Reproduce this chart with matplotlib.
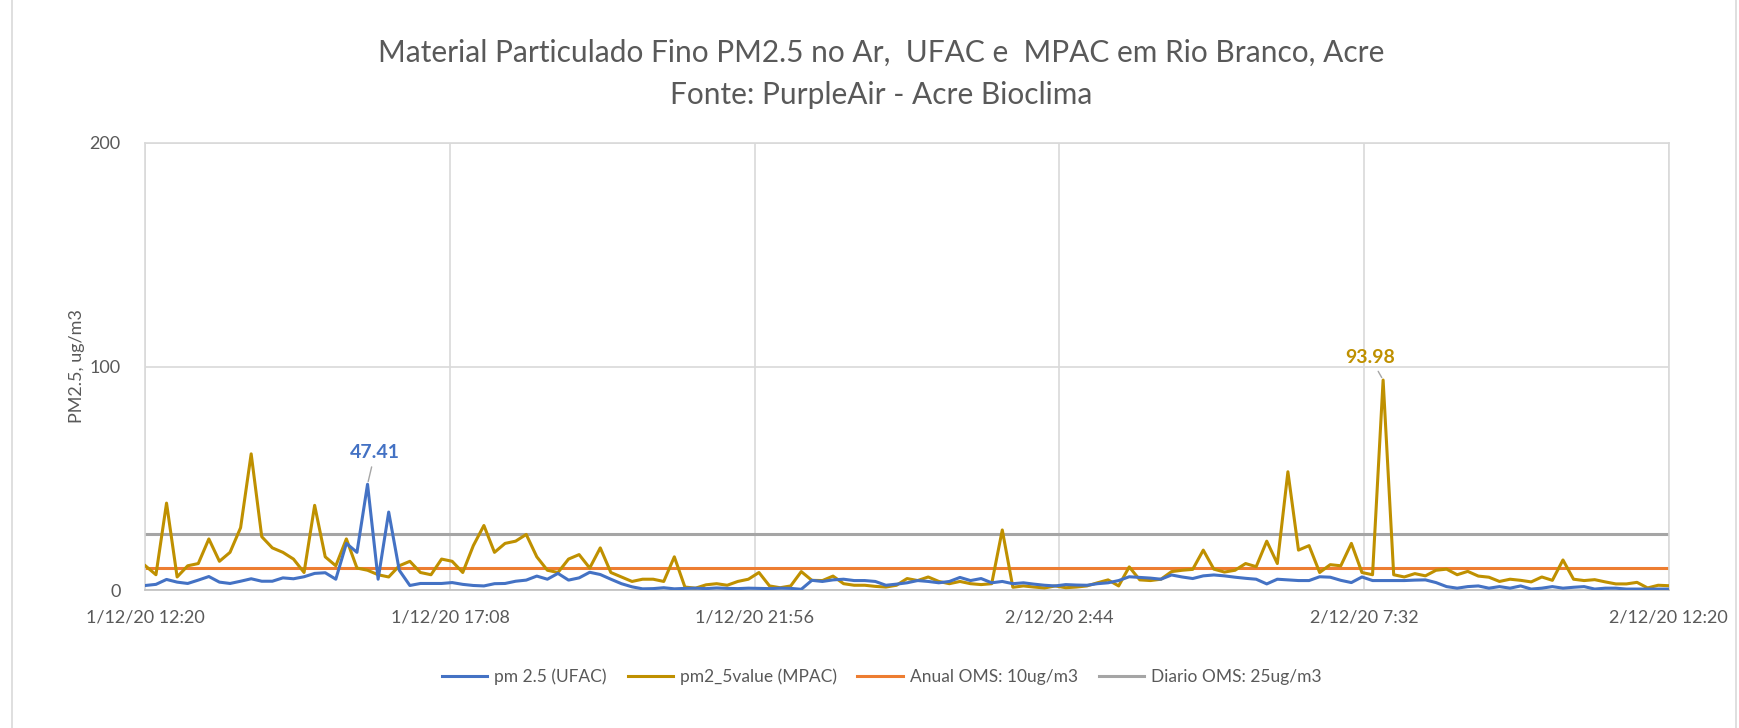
import numpy as np
import pandas as pd
import matplotlib
matplotlib.use("Agg")
import matplotlib.pyplot as plt
import matplotlib.dates as mdates
from matplotlib.ticker import FuncFormatter

# leituras a cada 10 min, 1/12/20 12:20 -> 2/12/20 12:20
start = "2020-12-01 12:20"
step_min = 10

ufac = [2.2, 2.7, 4.9, 3.7, 3.1, 4.6, 6.2, 3.7, 3.1, 4.1,
        5.2, 4.1, 4.1, 5.6, 5.2, 6.1, 7.6, 7.9, 5.0, 21.0,
        17.0, 47.41, 5.0, 35.0, 9.0, 2.2, 3.1, 3.1, 3.1, 3.5,
        2.7, 2.2, 2.0, 3.0, 3.1, 4.1, 4.6, 6.4, 5.0, 7.6,
        4.6, 5.6, 8.1, 7.1, 5.0, 3.0, 1.6, 0.7, 0.8, 1.2,
        0.7, 0.9, 1.0, 0.8, 1.1, 0.9, 0.8, 1.0, 0.9, 0.8,
        1.0, 0.9, 0.5, 4.5, 4.0, 4.7, 5.0, 4.4, 4.4, 4.0,
        2.3, 2.8, 3.4, 4.4, 4.0, 3.4, 4.0, 5.8, 4.4, 5.3,
        3.4, 4.0, 3.0, 3.4, 2.8, 2.3, 2.0, 2.6, 2.4, 2.3,
        3.0, 3.4, 4.4, 6.1, 5.8, 5.5, 5.0, 6.9, 6.0, 5.3,
        6.5, 6.9, 6.5, 5.9, 5.4, 5.0, 2.9, 5.0, 4.7, 4.4,
        4.4, 6.1, 5.9, 4.5, 3.5, 6.0, 4.4, 4.4, 4.4, 4.4,
        4.6, 4.7, 3.5, 1.7, 1.0, 1.7, 2.0, 1.0, 1.7, 1.0,
        2.0, 0.6, 1.0, 1.7, 1.0, 1.4, 1.7, 0.6, 1.0, 1.0,
        0.6, 0.6, 0.6, 0.6, 0.6]

mpac = [11.0, 7.0, 39.0, 6.0, 11.0, 12.0, 23.0, 13.0, 17.0, 28.0,
        61.0, 24.0, 19.0, 17.0, 14.0, 8.0, 38.0, 15.0, 11.0, 23.0,
        10.0, 9.0, 7.0, 6.0, 11.0, 13.0, 8.0, 7.0, 14.0, 13.0,
        8.0, 20.0, 29.0, 17.0, 21.0, 22.0, 25.0, 15.0, 9.0, 8.0,
        14.0, 16.0, 10.0, 19.0, 8.0, 6.0, 4.0, 5.0, 5.0, 4.0,
        15.0, 1.5, 1.0, 2.5, 3.0, 2.3, 4.0, 5.0, 8.0, 2.0,
        1.2, 2.0, 8.4, 4.5, 4.4, 6.4, 3.0, 2.3, 2.3, 1.8,
        1.5, 2.3, 5.3, 4.4, 6.0, 4.0, 3.0, 4.0, 3.0, 2.6,
        3.0, 27.0, 1.4, 2.0, 1.5, 1.1, 2.0, 1.2, 1.5, 2.0,
        3.4, 4.7, 2.0, 10.5, 4.7, 4.4, 5.0, 8.4, 9.0, 9.4,
        18.0, 9.5, 8.2, 9.0, 12.0, 10.6, 22.0, 12.0, 53.0, 18.0,
        20.0, 8.0, 11.5, 11.0, 21.0, 8.0, 7.0, 93.98, 7.0, 6.0,
        7.5, 6.5, 9.0, 9.5, 7.0, 8.5, 6.4, 5.9, 4.0, 5.0,
        4.5, 3.8, 6.0, 4.5, 13.6, 5.0, 4.4, 4.8, 3.8, 2.9,
        2.9, 3.6, 1.1, 2.3, 2.1]

anual_oms = 10
diario_oms = 25

labels = ["pm 2.5 (UFAC)", "pm2_5value (MPAC)", "Anual OMS: 10ug/m3", "Diario OMS: 25ug/m3"]
colors = ["#4472C4", "#BF9000", "#ED7D31", "#A5A5A5"]

t = pd.date_range(start, periods=len(ufac), freq=f"{step_min}min")
ufac = np.array(ufac)
mpac = np.array(mpac)

plt.rcParams['font.family'] = ['Lato', 'DejaVu Sans']

fig = plt.figure(figsize=(17.39, 7.28), dpi=100)
ax = fig.add_axes([0.0836, 0.189, 0.876, 0.615])

ax.plot(t, ufac, color=colors[0], lw=2.2, label=labels[0], zorder=4)
ax.plot(t, mpac, color=colors[1], lw=2.2, label=labels[1], zorder=3)
ax.plot(t, np.full(len(t), anual_oms), color=colors[2], lw=2.2, label=labels[2], zorder=2)
ax.plot(t, np.full(len(t), diario_oms), color=colors[3], lw=2.2, label=labels[3], zorder=2)

ax.set_xlim(t[0], t[-1])
ax.set_ylim(0, 200)
ax.set_yticks([0, 100, 200])
ticks = pd.date_range(t[0], t[-1], freq="288min")
ax.set_xticks(ticks)
ax.xaxis.set_major_formatter(FuncFormatter(
    lambda v, p: (lambda d: f"{d.day}/{d.month}/{d:%y} {d.hour}:{d:%M}")(mdates.num2date(v))))

ax.grid(True, color="#D9D9D9", lw=1.2)
ax.set_axisbelow(True)
for s in ax.spines.values():
    s.set_color("#D9D9D9")
    s.set_linewidth(1.2)
ax.spines['bottom'].set_color("#BFBFBF")
ax.tick_params(length=0, colors="#595959", labelsize=13, pad=14)
ax.tick_params(axis='y', pad=18)
ax.set_ylabel("PM2.5, ug/m3", color="#595959", fontsize=13, labelpad=3)

# rótulos dos picos
i_u = int(np.argmax(ufac))
i_m = int(np.argmax(mpac))
ax.annotate(f"{ufac[i_u]:.2f}", xy=(t[i_u], ufac[i_u]), xytext=(t[i_u] + pd.Timedelta(minutes=7), ufac[i_u] + 14),
            color=colors[0], fontsize=14, fontweight="bold", ha="center", va="center",
            arrowprops=dict(arrowstyle="-", color="#A6A6A6", lw=1))
ax.annotate(f"{mpac[i_m]:.2f}", xy=(t[i_m], mpac[i_m]), xytext=(t[i_m] - pd.Timedelta(minutes=12), mpac[i_m] + 10),
            color=colors[1], fontsize=14, fontweight="bold", ha="center", va="center",
            arrowprops=dict(arrowstyle="-", color="#A6A6A6", lw=1))

fig.text(0.507, 0.928, "Material Particulado Fino PM2.5 no Ar,  UFAC e  MPAC em Rio Branco, Acre",
         ha="center", va="center", fontsize=21.5, color="#595959")
fig.text(0.507, 0.869, "Fonte: PurpleAir - Acre Bioclima",
         ha="center", va="center", fontsize=21.5, color="#595959")

fig.legend(loc="center", bbox_to_anchor=(0.507, 0.07), ncol=4, frameon=False,
           fontsize=12.5, handlelength=2.6, columnspacing=1.2, handletextpad=0.4,
           labelcolor="#595959")

# borda da área do gráfico
fig.add_artist(plt.Line2D([0.007, 0.007], [0, 1], color="#D9D9D9", lw=1.2))
fig.add_artist(plt.Line2D([0.998, 0.998], [0, 1], color="#D9D9D9", lw=1.2))

fig.savefig("out.png", dpi=100)
